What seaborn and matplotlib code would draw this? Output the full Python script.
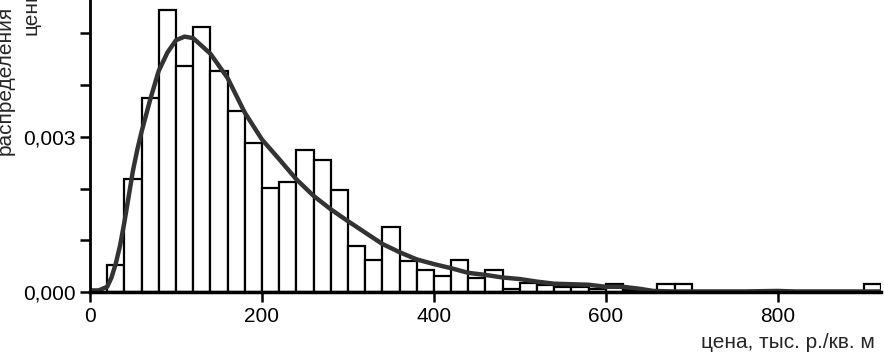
import matplotlib
matplotlib.use("Agg")
import matplotlib.pyplot as plt
import seaborn as sns

# histogram: left edges of 20-wide bins and density heights
bin_left = [20, 40, 60, 80, 100, 120, 140, 160, 180, 200, 220, 240, 260, 280,
            300, 320, 340, 360, 380, 400, 420, 440, 460, 480, 500, 520, 540,
            560, 580, 600, 620, 640, 660, 680, 700, 720, 740, 760, 780, 800,
            820, 840, 860, 880, 900]
density = [0.00052, 0.00218, 0.00375, 0.00545, 0.00437, 0.00512, 0.00428,
           0.00350, 0.00288, 0.00202, 0.00213, 0.00274, 0.00255, 0.00198,
           0.00088, 0.00061, 0.00125, 0.00060, 0.00043, 0.00030, 0.00062,
           0.00028, 0.00043, 0.00006, 0.00018, 0.00013, 0.00010, 0.00010,
           0.00005, 0.00015, 0.00004, 0.00002, 0.00016, 0.00016, 0, 0, 0, 0,
           0, 0, 0, 0, 0, 0, 0.00016]
bin_width = 20

# smoothed density curve
curve_x = [0, 10, 20, 25, 30, 35, 40, 45, 50, 55, 60, 70, 80, 90, 100, 110,
           120, 140, 160, 180, 200, 220, 240, 260, 280, 300, 320, 340, 360,
           380, 400, 420, 440, 460, 480, 500, 520, 540, 560, 580, 600, 620,
           640, 655, 680, 760, 800, 820, 860, 920]
curve_y = [0.00003, 0.00003, 0.0001, 0.00028, 0.00055, 0.0009, 0.00135,
           0.00185, 0.00235, 0.00275, 0.0031, 0.00372, 0.00428, 0.00463,
           0.00487, 0.00494, 0.00491, 0.00461, 0.00414, 0.00347, 0.00295,
           0.00257, 0.00218, 0.00186, 0.0016, 0.00137, 0.00115, 0.00093,
           0.00077, 0.00063, 0.00054, 0.00046, 0.00037, 0.00033, 0.00028,
           0.00025, 0.0002, 0.00016, 0.00015, 0.00014, 0.0001, 0.0001,
           0.00006, 0.00002, 0.00001, 0.00001, 0.00002, 0.00001, 0.00001,
           0.00001]

x_ticks = [0, 200, 400, 600, 800]
y_ticks = [0, 0.001, 0.002, 0.003, 0.004, 0.005]
y_labels = ["0,000", "", "", "0,003", "", ""]

sns.set_style("ticks")
plt.rcParams["font.family"] = ["Liberation Sans", "DejaVu Sans"]

fig = plt.figure(figsize=(8.84, 3.52), dpi=100)
ax = fig.add_axes([0.1018, 0.1705, 0.8948, 0.8295])

edges = bin_left + [bin_left[-1] + bin_width]
centers = [b + bin_width / 2 for b in bin_left]
sns.histplot(x=centers, weights=density, bins=edges, stat="count",
             color="white", edgecolor="black", linewidth=1.6, alpha=1, ax=ax)
sns.lineplot(x=curve_x, y=curve_y, color="#333333", linewidth=3.2, ax=ax)

ax.set_xlim(0, 920)
ax.set_ylim(0, 0.005648)
ax.set_xticks(x_ticks)
ax.set_yticks(y_ticks, labels=y_labels)
ax.tick_params(labelsize=15, length=7, width=1.8, color="black",
               labelcolor="black")
ax.tick_params(axis="x", pad=4)
for side in ["top", "right"]:
    ax.spines[side].set_visible(False)
ax.spines["left"].set_linewidth(2)
ax.spines["left"].set_color("black")
ax.spines["bottom"].set_linewidth(2.5)
ax.spines["bottom"].set_color("black")

ax.set_xlabel("")
ax.set_ylabel("")
fig.text(0.99, 0.012, "цена, тыс. р./кв. м", ha="right", va="baseline",
         fontsize=15)
# y label, cut by the top edge as in the source image
fig.text(0.0057, 0.5597, "распределения", rotation=90, ha="center",
         va="bottom", fontsize=15)
fig.text(0.0347, 0.9006, "цены", rotation=90, ha="center", va="bottom",
         fontsize=15)

fig.savefig("out.png", dpi=100)
